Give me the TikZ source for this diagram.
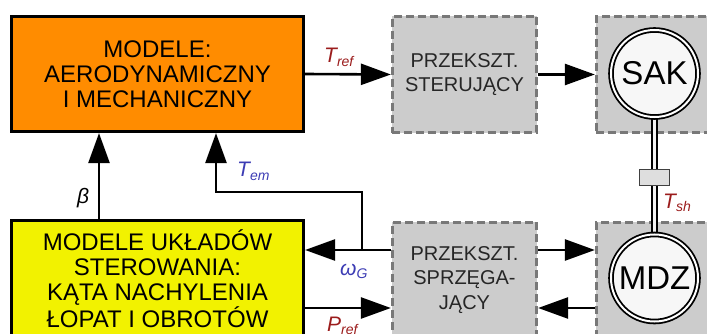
\documentclass[tikz,border=0pt]{standalone}
\usepackage{fontspec}
\setmainfont{Liberation Sans}
\usetikzlibrary{calc, positioning, arrows.meta}

\definecolor{modelorange}{RGB}{255,140,0}
\definecolor{ctrlyellow}{RGB}{242,242,0}
\definecolor{convfill}{RGB}{204,204,204}
\definecolor{convline}{RGB}{120,120,120}
\definecolor{sigred}{RGB}{155,28,28}
\definecolor{sigblue}{RGB}{60,60,180}

\newcommand{\sigvar}[2]{\textit{#1}\raisebox{-0.35ex}{\fontsize{14}{14}\selectfont\textit{#2}}}

\begin{document}
\begin{tikzpicture}[x=1pt, y=-1pt, line join=miter,
	model/.style={draw=black, line width=3.2pt, align=center, inner sep=0pt, font=\fontsize{24}{25}\selectfont},
	conv/.style={draw=convline, fill=convfill, line width=2.8pt, dash pattern=on 8pt off 4pt, align=center, inner sep=0pt, text=black!85, font=\fontsize{20}{24.5}\selectfont},
	machine/.style={circle, draw=black, fill=white!97!black, line width=1.8pt, double=white, double distance=2pt, minimum size=87pt, inner sep=0pt, font=\fontsize{33}{33}\selectfont},
	sig/.style={line width=2.6pt, -{Triangle[length=30pt, width=21pt]}},
	siglabel/.style={font=\fontsize{21}{21}\selectfont\itshape, inner sep=0pt},
	shaft/.style={line width=1.4pt, double=white!95!black, double distance=3.5pt}]

\useasboundingbox (0,0) rectangle (707,334);
\clip (0,0) rectangle (707,334);

\node[model, fill=modelorange, minimum width=292pt, minimum height=115pt] (aero) at (157.5,74)
	{MODELE:\\AERODYNAMICZNY\\I MECHANICZNY};
\node[model, fill=ctrlyellow, minimum width=292pt, minimum height=117pt] (ctrl) at (157.5,279)
	{MODELE UKŁADÓW\\STEROWANIA:\\KĄTA NACHYLENIA\\ŁOPAT I OBROTÓW};

\node[conv, minimum width=144.5pt, minimum height=116.5pt] (sterconv) at (464.5,74.5)
	{PRZEKSZT.\\STERUJĄCY};
\node[conv, minimum width=144.5pt, minimum height=115.5pt] (sprzconv) at (464.5,280)
	{PRZEKSZT.\\SPRZĘGA-\\JĄCY};
\node[conv, minimum width=116.5pt, minimum height=116.5pt] (sakbox) at (654.5,74.5) {};
\node[conv, minimum width=116.5pt, minimum height=115.5pt] (mdzbox) at (654.5,280) {};

\draw[shaft] (654.5,73.5) -- (654.5,278);
\node[machine] (sak) at (654.5,73.5) {SAK};
\node[machine] (mdz) at (654.5,278) {MDZ};
\node[draw=black!75, fill=black!13, line width=0.9pt, minimum width=30pt, minimum height=16pt, inner sep=0pt] (clutch) at (654.5,177.5) {};

\draw[sig] (aero.east) -- (sterconv.west);
\draw[sig] (sterconv.east) -- (sakbox.west);

\coordinate (wg) at ([yshift=30pt]sprzconv.west);
\coordinate (pref) at ([yshift=-28pt]sprzconv.west);
\coordinate (tap) at ($(wg)+(-29,0)$);

\draw[sig] (wg) -- (wg -| ctrl.east);
\draw[sig] (pref -| ctrl.east) -- (pref);
\draw[sig] (wg -| sprzconv.east) -- (wg -| mdzbox.west);
\draw[sig] (pref -| mdzbox.west) -- (pref -| sprzconv.east);

\draw[sig] (tap) -- ++(0,-58) -| ([xshift=58.5pt]aero.south);
\draw[sig] ([xshift=-58.5pt]ctrl.north) -- ([xshift=-58.5pt]aero.south);

\node[siglabel, text=sigred, anchor=base west] (treflab) at (324,63) {\sigvar{T}{ref}};
\node[siglabel, text=sigblue, anchor=base west] (temlab) at (237,177) {\sigvar{T}{em}};
\node[siglabel] (betalab) at (83,198) {β};
\node[siglabel, text=sigblue, anchor=base west] (wglab) at (340,275) {\sigvar{ω}{G}};
\node[siglabel, text=sigred, anchor=base west] (preflab) at (327,331) {\sigvar{P}{ref}};
\node[siglabel, text=sigred, anchor=base west] (tshlab) at (663,208) {\sigvar{T}{sh}};

\end{tikzpicture}
\end{document}
